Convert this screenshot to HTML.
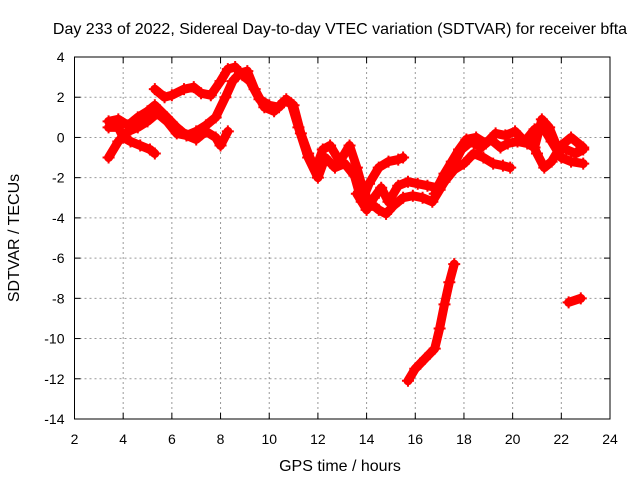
<!DOCTYPE html>
<html><head><meta charset="utf-8"><style>
body{margin:0;background:#fff}
svg text{font-family:"Liberation Sans",sans-serif;font-size:14px;fill:#000}
svg text.big{font-size:16px}
</style></head><body>
<svg id="c" width="640" height="480"></svg>
<script>
const xTicks=[2,4,6,8,10,12,14,16,18,20,22,24];
const yTicks=[4,2,0,-2,-4,-6,-8,-10,-12,-14];
const track1=[[3.4,-1.0],[3.8,-0.2],[4.2,0.3],[4.6,0.5],[5.0,0.8],[5.4,1.2],[5.8,0.8],[6.2,0.2],[6.6,0.1],[7.0,0.3],[7.4,0.6],[7.8,1.0],[8.2,2.0],[8.5,2.8],[8.8,3.2],[9.1,3.3],[9.4,2.4],[9.8,1.5],[10.2,1.3],[10.6,1.8],[10.9,1.7],[11.2,0.5],[11.6,-1.0],[12.0,-2.0],[12.3,-1.0],[12.7,-1.5],[13.1,-1.3],[13.5,-1.9],[13.8,-3.2],[14.1,-2.3],[14.5,-1.5],[14.9,-1.2],[15.3,-1.1],[15.5,-1.0]];
const track2=[[3.4,0.8],[3.8,0.9],[4.2,0.6],[4.6,1.0],[5.0,1.3],[5.3,1.6],[5.8,1.0],[6.2,0.5],[6.6,0.1],[7.0,-0.1],[7.4,0.3],[7.8,0.0],[8.0,-0.4],[8.3,0.3]];
const track3=[[3.4,0.5],[3.8,0.5],[4.0,0.0],[4.3,-0.2],[4.7,-0.4],[5.1,-0.6],[5.3,-0.8]];
const track4=[[5.3,2.4],[5.7,2.0],[6.0,2.1],[6.5,2.4],[6.9,2.5],[7.2,2.2],[7.6,2.1],[8.0,2.8],[8.3,3.4],[8.6,3.5],[8.9,3.1],[9.2,2.8],[9.6,1.9],[10.0,1.6],[10.4,1.5],[10.7,1.9],[11.0,1.6],[11.3,0.2],[11.6,-0.8],[11.9,-1.6],[12.2,-0.6],[12.5,-0.4],[12.9,-1.2],[13.3,-0.4],[13.6,-1.5],[13.9,-2.8],[14.2,-3.3],[14.5,-3.6],[14.8,-3.8],[15.1,-3.4],[15.5,-3.0],[15.9,-2.9],[16.3,-3.0],[16.7,-3.2],[17.0,-2.6],[17.3,-2.0],[17.6,-1.3],[17.9,-0.6],[18.3,-0.2],[18.7,-0.5],[19.1,-0.1],[19.5,-0.5],[19.8,-0.3],[20.2,-0.2],[20.6,-0.3],[20.9,-0.5],[21.2,0.9],[21.5,0.5],[21.8,-0.4],[22.2,-0.6],[22.6,-0.8],[22.9,-0.6]];
const track5=[[13.6,-2.8],[14.0,-3.6],[14.3,-3.0],[14.6,-2.5],[14.9,-3.2],[15.3,-2.4],[15.7,-2.2],[16.1,-2.3],[16.5,-2.4],[16.9,-2.5],[17.2,-1.8],[17.5,-1.2],[17.8,-0.6],[18.1,-0.1],[18.5,0.0],[18.9,-0.3],[19.3,0.2],[19.7,0.1],[20.1,0.3],[20.5,-0.2],[20.9,0.4],[21.2,0.6],[21.6,-0.2],[22.0,-1.0],[22.4,-1.2],[22.9,-1.3]];
const track6=[[16.8,-2.8],[17.2,-2.2],[17.6,-1.6],[18.0,-1.3],[18.4,-0.8],[18.8,-1.0],[19.2,-1.3],[19.6,-1.4],[19.9,-1.5]];
const track7=[[20.7,0.0],[21.0,-0.8],[21.3,-1.5],[21.6,-1.2],[22.0,-0.4],[22.4,0.0],[22.9,-0.5]];
const track8=[[15.7,-12.1],[16.0,-11.5],[16.4,-11.0],[16.8,-10.5],[17.0,-9.5],[17.2,-8.3],[17.4,-7.2],[17.6,-6.3]];
const track9=[[22.3,-8.2],[22.8,-8.0]];
const tracks=[track1,track2,track3,track4,track5,track6,track7,track8,track9];

const L=74.5,R=610,T=57,B=419;
const X=v=>L+(v-2)/22*(R-L);
const Y=v=>T+(4-v)/18*(B-T);
const svg=document.getElementById('c');
const NS='http://www.w3.org/2000/svg';
function mk(t,a,p){const e=document.createElementNS(NS,t);for(const k in a)e.setAttribute(k,a[k]);(p||svg).appendChild(e);return e;}

xTicks.forEach(v=>{
  if(v>2&&v<24){const g=mk('line',{x1:X(v),x2:X(v),y1:T,y2:B,stroke:'#999','stroke-dasharray':'2,3'});
  
  }
  const t=mk('text',{x:X(v),y:B+25,'text-anchor':'middle'});t.textContent=v;
  
  
  mk('line',{x1:X(v),x2:X(v),y1:B,y2:B-6,stroke:'#000'});
  mk('line',{x1:X(v),x2:X(v),y1:T,y2:T+6,stroke:'#000'});
});
yTicks.forEach(v=>{
  if(v<4&&v>-14){const g=mk('line',{x1:L,x2:R,y1:Y(v),y2:Y(v),stroke:'#999','stroke-dasharray':'2,3'});
  
  }
  const t=mk('text',{x:L-10,y:Y(v)+5,'text-anchor':'end'});t.textContent=v;
  
  
  mk('line',{x1:L,x2:L+6,y1:Y(v),y2:Y(v),stroke:'#000'});
  mk('line',{x1:R,x2:R-6,y1:Y(v),y2:Y(v),stroke:'#000'});
});
const frame=mk('rect',{x:L,y:T,width:R-L,height:B-T,fill:'none',stroke:'#000'});



tracks.forEach(tr=>{
  const p=mk('polyline',{points:tr.map(d=>X(d[0])+','+Y(d[1])).join(' '),fill:'none',stroke:'#f00','stroke-width':9,'stroke-linejoin':'round','stroke-linecap':'round'});
  
  
  tr.forEach(d=>{
    const m=mk('path',{d:`M${X(d[0])-6},${Y(d[1])}h12M${X(d[0])},${Y(d[1])-6}v12`,stroke:'#f00','stroke-width':2});
    
    
  });
});

const title=mk('text',{x:340,y:34,'text-anchor':'middle','class':'big'});
title.textContent='Day 233 of 2022, Sidereal Day-to-day VTEC variation (SDTVAR) for receiver bfta';


const xt=mk('text',{x:340,y:471,'text-anchor':'middle','class':'big'});
xt.textContent='GPS time / hours';


const yt=mk('text',{x:0,y:0,'text-anchor':'middle','class':'big',transform:'translate(19,238) rotate(-90)'});
yt.textContent='SDTVAR / TECUs';


</script>
</body></html>
